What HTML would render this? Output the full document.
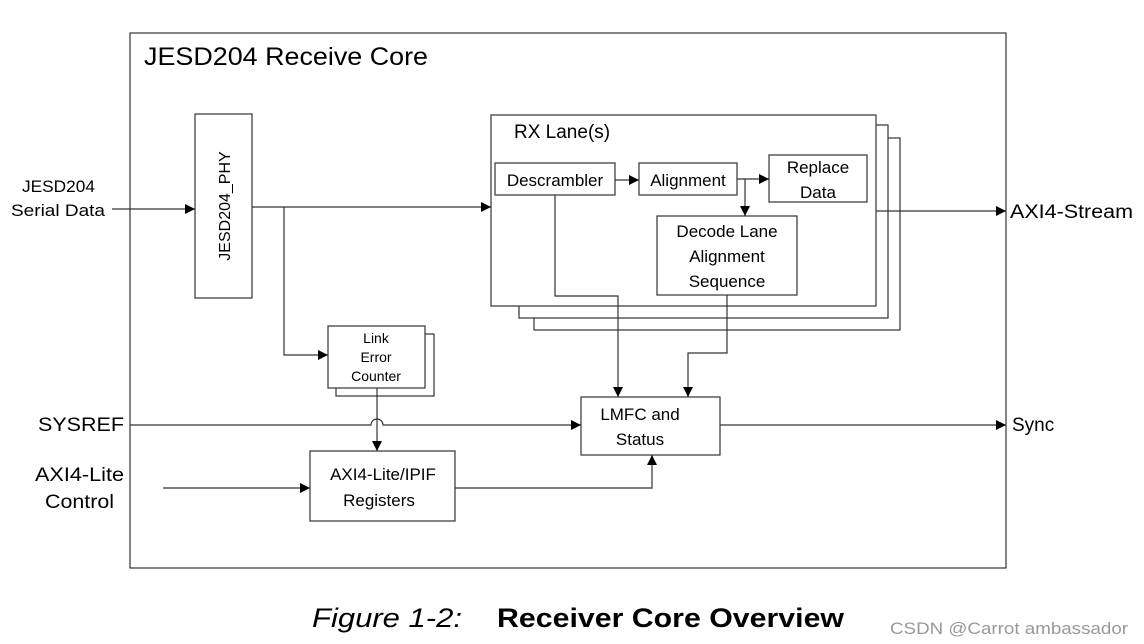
<!DOCTYPE html>
<html><head><meta charset="utf-8"><style>
html,body{margin:0;padding:0;background:#fff;}
svg{display:block;}
text{font-family:"Liberation Sans",sans-serif;fill:#000;}
</style></head><body>
<svg width="1144" height="644" viewBox="0 0 1144 644" xmlns="http://www.w3.org/2000/svg">
<defs>
<marker id="a" viewBox="0 0 10 10" refX="10" refY="5" markerWidth="14" markerHeight="10" markerUnits="userSpaceOnUse" orient="auto"><path d="M0,0 L10,5 L0,10 z" fill="#000"/></marker>
</defs>
<g fill="#fff" stroke="#333" stroke-width="1.2">
<rect x="130" y="33" width="876" height="535"/>
<rect x="534" y="138" width="366" height="192"/>
<rect x="519" y="125" width="369" height="193"/>
<rect x="491" y="115" width="385" height="191"/>
<rect x="495" y="163" width="120" height="32"/>
<rect x="639" y="163" width="98" height="32"/>
<rect x="769" y="155" width="98" height="47"/>
<rect x="657" y="216" width="140" height="79"/>
<rect x="195" y="114" width="57" height="184"/>
<rect x="336" y="334" width="98" height="62"/>
<rect x="328" y="326" width="97" height="62"/>
<rect x="581" y="397" width="139" height="58"/>
<rect x="310" y="451" width="145" height="70"/>
</g>
<g fill="none" stroke="#333" stroke-width="1.2">
<line x1="112" y1="209" x2="195" y2="209" marker-end="url(#a)"/>
<line x1="252" y1="207" x2="491" y2="207" marker-end="url(#a)"/>
<polyline points="284,207 284,355 328,355" marker-end="url(#a)"/>
<line x1="615" y1="180" x2="639" y2="180" marker-end="url(#a)"/>
<line x1="737" y1="179" x2="769" y2="179" marker-end="url(#a)"/>
<line x1="745" y1="179" x2="745" y2="216" marker-end="url(#a)"/>
<polyline points="555,195 555,296 618,296 618,397" marker-end="url(#a)"/>
<polyline points="727,295 727,353 688,353 688,397" marker-end="url(#a)"/>
<line x1="876" y1="211" x2="1006" y2="211" marker-end="url(#a)"/>
<path d="M130,425 L371,425 A6,6 0 0 1 383,425 L581,425" marker-end="url(#a)"/>
<line x1="377" y1="388" x2="377" y2="451" marker-end="url(#a)"/>
<line x1="720" y1="425" x2="1006" y2="425" marker-end="url(#a)"/>
<line x1="163" y1="488" x2="310" y2="488" marker-end="url(#a)"/>
<polyline points="455,488 652,488 652,455" marker-end="url(#a)"/>
</g>
<text x="144" y="65" font-size="25" textLength="284" lengthAdjust="spacingAndGlyphs">JESD204 Receive Core</text>
<text x="514" y="138" font-size="19">RX Lane(s)</text>
<text x="555" y="186" font-size="17" text-anchor="middle">Descrambler</text>
<text x="688" y="186" font-size="17" text-anchor="middle">Alignment</text>
<text x="818" y="173" font-size="17" text-anchor="middle">Replace</text>
<text x="818" y="198" font-size="17" text-anchor="middle">Data</text>
<text x="727" y="237" font-size="17" text-anchor="middle">Decode Lane</text>
<text x="727" y="262" font-size="17" text-anchor="middle">Alignment</text>
<text x="727" y="287" font-size="17" text-anchor="middle">Sequence</text>
<text transform="translate(230,206) rotate(-90)" font-size="16" text-anchor="middle">JESD204_PHY</text>
<text x="376" y="343" font-size="14" text-anchor="middle">Link</text>
<text x="376" y="362" font-size="14" text-anchor="middle">Error</text>
<text x="376" y="381" font-size="14" text-anchor="middle">Counter</text>
<text x="640" y="420" font-size="17" text-anchor="middle">LMFC and</text>
<text x="640" y="445" font-size="17" text-anchor="middle">Status</text>
<text x="383" y="480" font-size="17" text-anchor="middle">AXI4-Lite/IPIF</text>
<text x="379" y="506" font-size="17" text-anchor="middle">Registers</text>
<text x="22" y="192" font-size="17" textLength="73" lengthAdjust="spacingAndGlyphs">JESD204</text>
<text x="11" y="216" font-size="17" textLength="94" lengthAdjust="spacingAndGlyphs">Serial Data</text>
<text x="1010" y="218" font-size="19" textLength="123" lengthAdjust="spacingAndGlyphs">AXI4-Stream</text>
<text x="38" y="431" font-size="19" textLength="86" lengthAdjust="spacingAndGlyphs">SYSREF</text>
<text x="1012" y="431" font-size="19">Sync</text>
<text x="35" y="481" font-size="19" textLength="89" lengthAdjust="spacingAndGlyphs">AXI4-Lite</text>
<text x="45" y="508" font-size="19" textLength="69" lengthAdjust="spacingAndGlyphs">Control</text>
<text x="312" y="627" font-size="27" font-style="italic" textLength="150" lengthAdjust="spacingAndGlyphs">Figure 1-2:</text>
<text x="497" y="627" font-size="27" font-weight="bold" textLength="347" lengthAdjust="spacingAndGlyphs">Receiver Core Overview</text>
<text x="890" y="634" font-size="17" style="fill:#999" textLength="238" lengthAdjust="spacingAndGlyphs">CSDN @Carrot ambassador</text>
</svg>
</body></html>
